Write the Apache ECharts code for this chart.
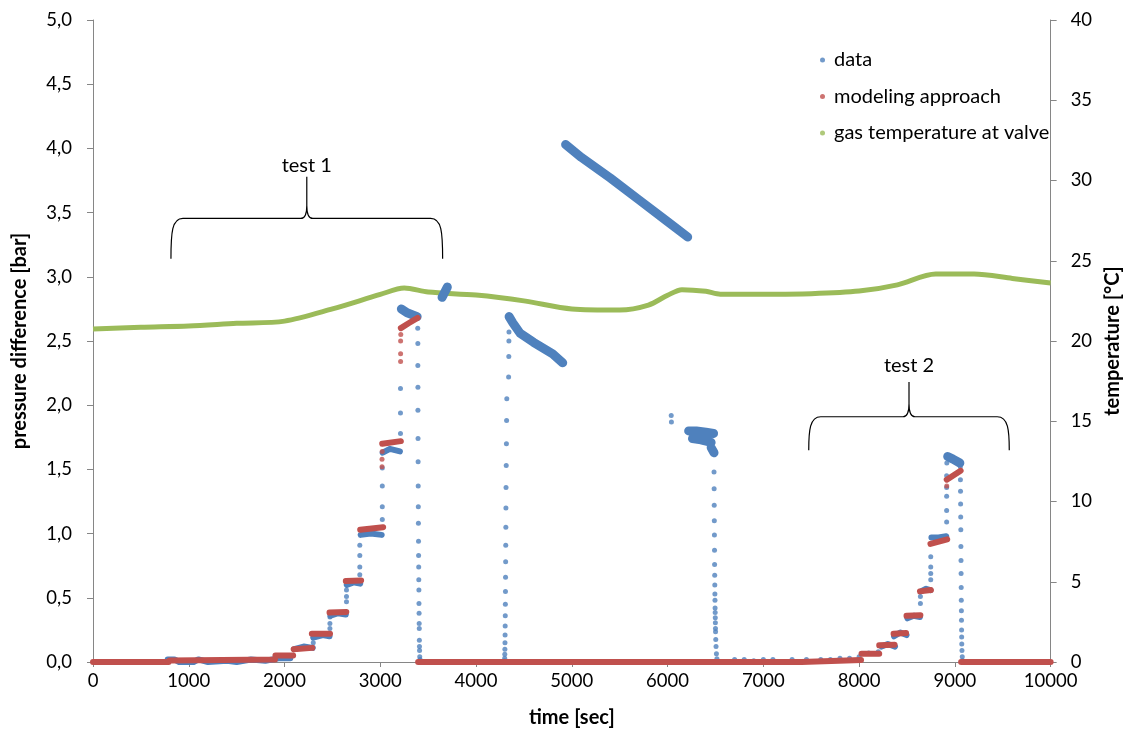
<!DOCTYPE html>
<html>
<head>
<meta charset="utf-8">
<script src="https://cdn.jsdelivr.net/npm/echarts@6/dist/echarts.min.js"></script>
<style>
html,body{margin:0;padding:0;background:#fff;}
#chart{width:1131px;height:733px;}
</style>
</head>
<body>
<div id="chart"></div>
<script>
// ---- Data (time [sec], value) ----
const xTicks = [0, 1000, 2000, 3000, 4000, 5000, 6000, 7000, 8000, 9000, 10000];

// "data" (pressure difference, bar): step plateaus, null = gap
const dataSteps = [
  [780,0.02],[850,0.02],[900,0.0],[1050,0.0],[1100,0.02],[1200,0.0],[1400,0.01],[1500,0.0],[1650,0.02],[1800,0.01],[1950,0.03],[2060,0.03], null,
  [2100,0.10],[2200,0.12],[2295,0.11], null,
  [2300,0.19],[2400,0.21],[2470,0.20], null,
  [2480,0.36],[2560,0.38],[2640,0.37], null,
  [2650,0.60],[2720,0.62],[2790,0.61], null,
  [2795,0.99],[2900,1.00],[3015,0.99], null,
  [3025,1.63],[3100,1.66],[3205,1.64], null,
  [8235,0.12],[8300,0.14],[8375,0.12], null,
  [8365,0.20],[8430,0.23],[8495,0.21], null,
  [8505,0.34],[8570,0.36],[8635,0.35], null,
  [8645,0.55],[8700,0.57],[8745,0.56], null,
  [8755,0.97],[8830,0.97],[8910,0.98]
];
// "data": noisy wide bands
const dataBands = [
  [3220,2.75],[3280,2.72],[3385,2.69], null,
  [3645,2.84],[3700,2.92], null,
  [4345,2.69],[4385,2.64],[4460,2.56],[4600,2.49],[4800,2.40],[4905,2.33], null,
  [4935,4.03],[5100,3.93],[5400,3.77],[5700,3.60],[6000,3.43],[6210,3.31], null,
  [6220,1.80],[6300,1.80],[6400,1.79],[6480,1.78], null,
  [6260,1.74],[6350,1.73],[6455,1.71], null,
  [6455,1.67],[6485,1.63], null,
  [8925,1.60],[8980,1.58],[9052,1.55]
];

// "data": sparse individual points (transitions, drops)
const dataDots = [
  [2300,0.15],
  [2474,0.26],[2474,0.30],[2474,0.35],
  [2647,0.47],[2647,0.51],[2647,0.56],
  [2786,0.68],[2786,0.74],[2786,0.83],[2786,0.91],
  [3021,1.11],[3021,1.21],[3021,1.37],[3021,1.51],
  [3211,1.78],[3211,1.94],[3211,2.13],
  [3391,2.60],[3392,2.48],[3392,2.31],[3393,2.14],[3393,1.96],[3394,1.74],[3395,1.56],[3396,1.37],
  [3397,1.21],[3398,1.08],[3399,0.94],[3400,0.83],[3401,0.74],[3402,0.64],[3403,0.56],[3404,0.455],
  [3405,0.38],[3406,0.30],[3407,0.26],[3408,0.17],[3409,0.12],[3410,0.09],[3412,0.04],[3415,0.02],
  [4298,0.01],[4299,0.03],[4300,0.06],[4301,0.10],[4302,0.15],[4303,0.21],[4304,0.28],[4305,0.36],
  [4306,0.45],[4307,0.55],[4308,0.66],[4309,0.78],[4310,0.91],[4311,1.05],[4312,1.20],[4313,1.36],
  [4315,1.53],[4317,1.70],[4319,1.88],[4321,2.05],[4340,2.22],[4342,2.38],[4343,2.50],[4344,2.57],
  [6038,1.92],[6040,1.87],
  [6485,1.48],[6486,1.35],[6487,1.22],[6488,1.10],[6489,0.99],[6490,0.87],[6491,0.76],[6492,0.675],
  [6493,0.60],[6494,0.53],[6495,0.48],[6496,0.42],[6497,0.385],[6498,0.345],[6499,0.305],[6500,0.26],
  [6501,0.235],[6503,0.175],[6506,0.12],[6510,0.065],[6515,0.026],
  [6700,0.02],[6800,0.02],[6900,0.01],[7000,0.02],[7100,0.02],[7300,0.02],[7450,0.02],[7600,0.02],[7700,0.02],[7800,0.03],
  [7900,0.03],[8000,0.04],[8100,0.07],[8200,0.08],
  [8640,0.455],[8640,0.51],
  [8748,0.64],[8748,0.69],[8748,0.74],[8748,0.82],
  [8914,1.09],[8914,1.18],[8914,1.29],[8914,1.36],[8914,1.45],[8916,1.55],
  [9057,1.52],[9058,1.42],[9059,1.33],[9060,1.23],[9061,1.13],[9062,1.03],[9063,0.90],[9064,0.79],
  [9065,0.69],[9066,0.58],[9067,0.48],[9068,0.40],[9069,0.325],[9070,0.25],[9071,0.195],[9072,0.14],
  [9074,0.09],[9077,0.04],[9080,0.01]
];

// "modeling approach" (bar): step segments
const modelSteps = [
  [0,0],[790,0], null,
  [800,0.012],[1900,0.02], null,
  [1905,0.05],[2090,0.05], null,
  [2095,0.10],[2290,0.11], null,
  [2285,0.22],[2475,0.22], null,
  [2470,0.385],[2645,0.39], null,
  [2640,0.63],[2800,0.635], null,
  [2790,1.03],[3030,1.05], null,
  [3020,1.70],[3215,1.72], null,
  [3215,2.60],[3300,2.64],[3390,2.68], null,
  [3395,0],[7400,0],[8020,0.015], null,
  [8025,0.065],[8210,0.065], null,
  [8210,0.13],[8370,0.135], null,
  [8360,0.22],[8490,0.225], null,
  [8495,0.36],[8640,0.365], null,
  [8635,0.55],[8750,0.56], null,
  [8745,0.92],[8920,0.955], null,
  [8915,1.42],[9060,1.49], null,
  [9065,0],[10000,0]
];
const modelDots = [
  [3018,1.52],[3018,1.58],[3020,1.64],
  [3212,2.34],[3212,2.40],[3212,2.50],[3214,2.55],
  [8915,1.37]
];

// "gas temperature at valve" (°C, right axis)
const tempLine = [
  [0,20.74],[500,20.85],[1000,20.93],[1500,21.1],[2000,21.24],[2500,22.0],[3000,22.9],
  [3250,23.3],[3500,23.05],[4000,22.86],[4500,22.5],[5000,22.0],[5500,21.93],[5800,22.24],
  [6000,22.85],[6150,23.2],[6400,23.1],[6550,22.92],[7000,22.92],[7500,22.95],[8000,23.11],[8400,23.5],
  [8800,24.17],[9200,24.17],[9600,23.9],[10000,23.61]
];
const tempDots = [[0,0]];

// Annotation braces: [xStart, xEnd, yLegs, yBar, yTip, yText]
const braceRanges = [
  [814, 3651, 3.14, 3.455, 3.78, 3.87],
  [7474, 9568, 1.65, 1.91, 2.18, 2.31]
];
const braceLabels = ['test 1', 'test 2'];

// ---- Chart ----
const BLUE = '#4F81BD', RED = '#C0504D', GREEN = '#9BBB59', AX = '#868686';
const FONT = 'Lato';
const chart = echarts.init(document.getElementById('chart'), null, {renderer: 'canvas'});

function braceItem(params, api) {
  const i = params.dataIndex;
  const x1 = api.value(0), x2 = api.value(1);
  const yL = api.value(2), yB = api.value(3), yT = api.value(4), yTx = api.value(5);
  const xc = (x1 + x2) / 2;
  const pL = api.coord([x1, yL]);
  const pR = api.coord([x2, yL]);
  const hy = api.coord([x1, yB])[1];
  const pT = api.coord([xc, yT]);
  const pTx = api.coord([xc, yTx]);
  const cx = pT[0];
  const d = 'M' + pL[0] + ' ' + pL[1] +
    ' C' + pL[0] + ' ' + (hy + 14) + ' ' + (pL[0] + 1) + ' ' + hy + ' ' + (pL[0] + 12) + ' ' + hy +
    ' L' + (cx - 6) + ' ' + hy +
    ' Q' + cx + ' ' + hy + ' ' + cx + ' ' + (hy - 13) +
    ' L' + cx + ' ' + pT[1] +
    ' M' + cx + ' ' + (hy - 13) +
    ' Q' + cx + ' ' + hy + ' ' + (cx + 6) + ' ' + hy +
    ' L' + (pR[0] - 12) + ' ' + hy +
    ' C' + (pR[0] - 1) + ' ' + hy + ' ' + pR[0] + ' ' + (hy + 14) + ' ' + pR[0] + ' ' + pR[1];
  return {
    type: 'group',
    children: [
      {type: 'path', shape: {pathData: d}, style: {fill: null, stroke: '#000', lineWidth: 1.2}},
      {type: 'text', x: pTx[0], y: pTx[1], style: {text: braceLabels[i], fill: '#000', font: '20px ' + FONT, textAlign: 'center', textVerticalAlign: 'middle'}}
    ]
  };
}

chart.setOption({
  animation: false,
  backgroundColor: '#fff',
  textStyle: {fontFamily: FONT},
  grid: {left: 93, right: 74, top: 20, bottom: 71, containLabel: false},
  legend: {
    orient: 'vertical', left: 815, top: 44, itemGap: 14.5, itemWidth: 5, itemHeight: 5,
    textStyle: {fontSize: 20, color: '#000', fontFamily: FONT, lineHeight: 22, padding: [0, 0, 0, 4]},
    data: [
      {name: 'data', icon: 'circle'},
      {name: 'modeling approach', icon: 'circle'},
      {name: 'gas temperature at valve', icon: 'circle'}
    ]
  },
  xAxis: {
    type: 'value', min: 0, max: 10000, interval: 1000,
    name: 'time [sec]', nameLocation: 'middle', nameGap: 46,
    nameTextStyle: {fontSize: 20, fontWeight: 'bold', color: '#000', fontFamily: FONT},
    axisLine: {lineStyle: {color: AX, width: 1}},
    axisTick: {show: true, length: 5, lineStyle: {color: AX}},
    axisLabel: {fontSize: 18.5, color: '#000', margin: 10, fontFamily: FONT, formatter: v => String(v)},
    splitLine: {show: false}
  },
  yAxis: [
    {
      type: 'value', min: 0, max: 5, interval: 0.5, position: 'left',
      name: 'pressure difference [bar]', nameLocation: 'middle', nameGap: 63,
      nameTextStyle: {fontSize: 20, fontWeight: 'bold', color: '#000', fontFamily: FONT},
      axisLine: {show: true, lineStyle: {color: AX}},
      axisTick: {show: true, length: 6, lineStyle: {color: AX}},
      axisLabel: {fontSize: 18.5, color: '#000', margin: 21, fontFamily: FONT, formatter: v => v.toFixed(1).replace('.', ',')},
      splitLine: {show: false}
    },
    {
      type: 'value', min: 0, max: 40, interval: 5, position: 'right',
      name: 'temperature [°C]', nameLocation: 'middle', nameGap: 50,
      nameTextStyle: {fontSize: 20, fontWeight: 'bold', color: '#000', fontFamily: FONT},
      axisLine: {show: true, lineStyle: {color: AX}},
      axisTick: {show: true, length: 6, lineStyle: {color: AX}},
      axisLabel: {fontSize: 18.5, color: '#000', margin: 20, fontFamily: FONT},
      splitLine: {show: false}
    }
  ],
  series: [
    {name: 'gas temperature at valve', type: 'scatter', yAxisIndex: 1, data: tempDots, symbolSize: 4, itemStyle: {color: GREEN}, z: 2},
    {name: 'gas temperature at valve', type: 'line', yAxisIndex: 1, data: tempLine, smooth: 0.3, showSymbol: false,
      lineStyle: {color: GREEN, width: 5}, itemStyle: {color: GREEN}, z: 2},
    {name: 'data', type: 'scatter', data: dataDots, symbolSize: 5, itemStyle: {color: BLUE}, z: 3},
    {name: 'data', type: 'line', data: dataSteps, showSymbol: false, connectNulls: false,
      lineStyle: {color: BLUE, width: 6, cap: 'round', join: 'round'}, itemStyle: {color: BLUE}, z: 3},
    {name: 'data', type: 'line', data: dataBands, showSymbol: false, connectNulls: false,
      lineStyle: {color: BLUE, width: 9, cap: 'round', join: 'round'}, itemStyle: {color: BLUE}, z: 3},
    {name: 'modeling approach', type: 'scatter', data: modelDots, symbolSize: 5, itemStyle: {color: RED}, z: 4},
    {name: 'modeling approach', type: 'line', data: modelSteps, showSymbol: false, connectNulls: false,
      lineStyle: {color: RED, width: 6, cap: 'round', join: 'round'}, itemStyle: {color: RED}, z: 4},
    {type: 'custom', coordinateSystem: 'cartesian2d', data: braceRanges, renderItem: braceItem, silent: true, clip: false, z: 5,
      encode: {x: [0, 1], y: [2, 3, 4, 5]}}
  ]
});
</script>
</body>
</html>
